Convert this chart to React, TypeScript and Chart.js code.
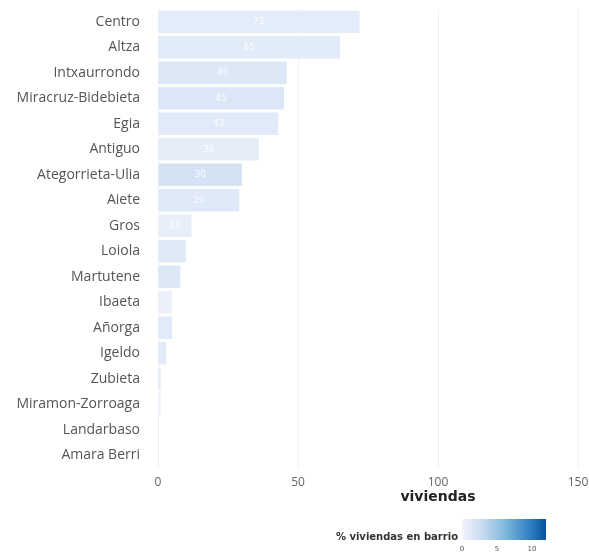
import React, { useEffect, useRef } from "react";
import { Chart, registerables } from "chart.js";

Chart.register(...registerables);

const barrios = [
  "Centro", "Altza", "Intxaurrondo", "Miracruz-Bidebieta", "Egia", "Antiguo",
  "Ategorrieta-Ulia", "Aiete", "Gros", "Loiola", "Martutene", "Ibaeta",
  "Añorga", "Igeldo", "Zubieta", "Miramon-Zorroaga", "Landarbaso", "Amara Berri",
];
const viviendas = [72, 65, 46, 45, 43, 36, 30, 29, 12, 10, 8, 5, 5, 3, 1, 1, 0, 0];
const pctBarrio = [1.0, 1.1, 1.4, 1.6, 1.2, 0.9, 2.0, 1.3, 0.6, 1.3, 1.4, 0.5, 1.2, 1.2, 0.9, 0.3, 0, 0];
const xTicks = [0, 50, 100, 150];
const legendTicks = [0, 5, 10];
const legendMax = 12;
const xTitle = "viviendas";
const legendTitle = "% viviendas en barrio";

const FONT = "'DejaVu Sans', sans-serif";
const LABEL_FONT = "'Open Sans', sans-serif";

const stops: [number, [number, number, number]][] = [
  [0, [242, 245, 253]],
  [0.25, [198, 217, 240]],
  [0.5, [130, 186, 222]],
  [0.8, [49, 130, 196]],
  [1, [8, 81, 156]],
];
function colorFor(p: number): string {
  const t = Math.max(0, Math.min(1, p / legendMax));
  for (let i = 1; i < stops.length; i++) {
    if (t <= stops[i][0]) {
      const [t0, c0] = stops[i - 1];
      const [t1, c1] = stops[i];
      const f = (t - t0) / (t1 - t0);
      const c = c0.map((v, k) => Math.round(v + (c1[k] - v) * f));
      return `rgb(${c[0]},${c[1]},${c[2]})`;
    }
  }
  return "rgb(8,81,156)";
}

const extrasPlugin = {
  id: "extras",
  afterDatasetsDraw(chart: any) {
    const ctx = chart.ctx;
    const meta = chart.getDatasetMeta(0);
    ctx.save();
    ctx.font = `9px ${FONT}`;
    ctx.fillStyle = "rgba(255,255,255,0.9)";
    ctx.textAlign = "center";
    ctx.textBaseline = "middle";
    meta.data.forEach((bar: any, i: number) => {
      const v = viviendas[i];
      if (v >= 12) {
        ctx.fillText(String(v), (bar.x + bar.base) / 2, bar.y);
      }
    });
    ctx.restore();
  },
  afterDraw(chart: any) {
    const ctx = chart.ctx;
    const xs = chart.scales.x;
    ctx.save();
    ctx.font = `bold 14px ${FONT}`;
    ctx.fillStyle = "#222";
    ctx.textAlign = "center";
    ctx.textBaseline = "middle";
    ctx.fillText(xTitle, xs.getPixelForValue(100), 497);
    const lx = 462, ly = 519, lw = 84, lh = 21;
    const g = ctx.createLinearGradient(lx, 0, lx + lw, 0);
    for (let i = 0; i <= 20; i++) {
      g.addColorStop(i / 20, colorFor((i / 20) * legendMax));
    }
    ctx.fillStyle = g;
    ctx.fillRect(lx, ly, lw, lh);
    ctx.font = `bold 10px ${FONT}`;
    ctx.fillStyle = "#333";
    ctx.textAlign = "right";
    ctx.fillText(legendTitle, lx - 4, ly + 18);
    ctx.font = `7px ${FONT}`;
    ctx.fillStyle = "#555";
    ctx.textAlign = "center";
    legendTicks.forEach((t) => {
      ctx.fillText(String(t), lx + (t / legendMax) * lw, ly + lh + 9);
    });
    ctx.restore();
  },
};

export default function App() {
  const ref = useRef<HTMLCanvasElement>(null);
  useEffect(() => {
    const chart = new Chart(ref.current!, {
      type: "bar",
      data: {
        labels: barrios,
        datasets: [
          {
            data: viviendas,
            backgroundColor: pctBarrio.map(colorFor),
            borderWidth: 0,
            barPercentage: 0.88,
            categoryPercentage: 1,
          },
        ],
      },
      options: {
        indexAxis: "y",
        animation: false,
        responsive: false,
        devicePixelRatio: 1,
        layout: { padding: { top: 9, right: 11, left: 0, bottom: 0 } },
        plugins: { legend: { display: false }, tooltip: { enabled: false } },
        scales: {
          x: {
            min: 0,
            max: 150,
            afterBuildTicks: (s: any) => {
              s.ticks = xTicks.map((v) => ({ value: v }));
            },
            afterFit: (s: any) => {
              s.height = 87;
              s.paddingLeft = 0;
              s.paddingRight = 0;
            },
            border: { display: false },
            grid: { color: "#f0f0f0", drawTicks: false },
            ticks: { padding: 7, color: "#666", font: { family: LABEL_FONT, size: 12 } },
          },
          y: {
            afterFit: (s: any) => {
              s.width = 158;
              s.paddingTop = 0;
              s.paddingBottom = 0;
            },
            border: { display: false },
            grid: { display: false, drawTicks: false },
            ticks: { padding: 18, color: "#555", font: { family: LABEL_FONT, size: 14 } },
          },
        },
      },
      plugins: [extrasPlugin],
    });
    return () => chart.destroy();
  }, []);
  return (
    <div style={{ position: "absolute", left: 0, top: 0, width: 589, height: 555, background: "#fff" }}>
      <canvas ref={ref} width={589} height={555} style={{ display: "block" }} />
    </div>
  );
}
